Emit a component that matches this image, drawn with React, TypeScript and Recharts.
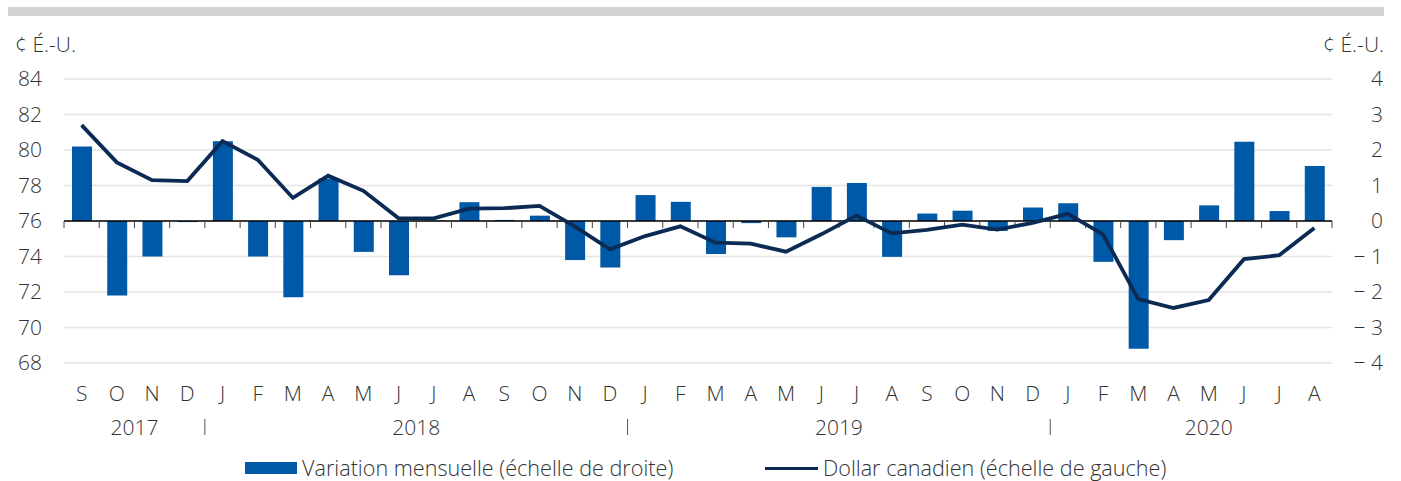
import {
  Bar,
  CartesianGrid,
  ComposedChart,
  Line,
  ReferenceLine,
  XAxis,
  YAxis,
} from 'recharts';

// sept. 2017 -> août 2020
const periodes = [
  '2017-09', '2017-10', '2017-11', '2017-12',
  '2018-01', '2018-02', '2018-03', '2018-04', '2018-05', '2018-06',
  '2018-07', '2018-08', '2018-09', '2018-10', '2018-11', '2018-12',
  '2019-01', '2019-02', '2019-03', '2019-04', '2019-05', '2019-06',
  '2019-07', '2019-08', '2019-09', '2019-10', '2019-11', '2019-12',
  '2020-01', '2020-02', '2020-03', '2020-04', '2020-05', '2020-06',
  '2020-07', '2020-08',
];

const mois = [
  'S', 'O', 'N', 'D',
  'J', 'F', 'M', 'A', 'M', 'J', 'J', 'A', 'S', 'O', 'N', 'D',
  'J', 'F', 'M', 'A', 'M', 'J', 'J', 'A', 'S', 'O', 'N', 'D',
  'J', 'F', 'M', 'A', 'M', 'J', 'J', 'A',
];

// variation mensuelle, ¢ É.-U. (échelle de droite)
const variation = [
  2.1, -2.1, -1.0, -0.03,
  2.25, -1.0, -2.15, 1.2, -0.87, -1.53, 0.01, 0.53, 0.03, 0.15, -1.1, -1.31,
  0.73, 0.54, -0.93, -0.06, -0.46, 0.96, 1.07, -1.01, 0.21, 0.29, -0.28, 0.38,
  0.5, -1.15, -3.6, -0.54, 0.44, 2.23, 0.28, 1.55,
];

// dollar canadien, ¢ É.-U. (échelle de gauche)
const dollar = [
  81.4, 79.3, 78.3, 78.25,
  80.5, 79.45, 77.3, 78.55, 77.7, 76.15, 76.15, 76.7, 76.72, 76.85, 75.7, 74.4,
  75.15, 75.7, 74.78, 74.72, 74.27, 75.25, 76.3, 75.3, 75.5, 75.8, 75.52, 75.9,
  76.4, 75.25, 71.6, 71.1, 71.55, 73.85, 74.07, 75.6,
];

const ticksGauche = [68, 70, 72, 74, 76, 78, 80, 82, 84];
const ticksDroite = [-4, -3, -2, -1, 0, 1, 2, 3, 4];

const annees = ['2017', '2018', '2019', '2020'];
const anneeAncres = ['2017-11', '2018-07', '2019-07', '2020-05'];

const BLEU = '#0059a6';
const MARINE = '#0b2a54';
const TEXTE = '#333333';
const POLICE = '"Open Sans", "Noto Sans", sans-serif';
const FS = 21;

const W = 1401;
const H = 481;
const AXE_G = 64;
const AXE_D = 51;
const MARGE_D = 18;
const LARG_PLOT = W - AXE_G - AXE_D - MARGE_D;
const BANDE = LARG_PLOT / periodes.length;

const data = periodes.map((p, i) => ({
  periode: p,
  variation: variation[i],
  dollar: dollar[i],
}));

function TickDroite(props: any) {
  const { x, y, payload } = props;
  const v = payload.value as number;
  const txt = v < 0 ? `\u2212 ${Math.abs(v)}` : `${v}`;
  return (
    <text
      x={x + AXE_D}
      y={y}
      dy="0.355em"
      textAnchor="end"
      fill={TEXTE}
      fontSize={FS}
      fontFamily={POLICE}
      fontWeight={300}
    >
      {txt}
    </text>
  );
}

// lettre du mois + ligne des années en dessous
function TickMois(props: any) {
  const { x, y, payload } = props;
  const i = payload.index as number;
  const k = anneeAncres.indexOf(payload.value);
  const debutAnnee = i > 0 && mois[i] === 'J' && mois[i - 1] === 'D';
  // 2020 est centrée sur son mois, les autres sur la limite
  const tx = k === annees.length - 1 ? x : x - BANDE / 2;
  const txt = { fill: TEXTE, fontSize: FS, fontFamily: POLICE, fontWeight: 300 };
  return (
    <g>
      <text x={x} y={y + 38} textAnchor="middle" {...txt}>
        {mois[i]}
      </text>
      {debutAnnee && (
        <line x1={x - BANDE / 2} x2={x - BANDE / 2} y1={y + 56} y2={y + 72} stroke="#555" strokeWidth={1} />
      )}
      {k >= 0 && (
        <text x={tx} y={y + 72} textAnchor="middle" {...txt}>
          {annees[k]}
        </text>
      )}
    </g>
  );
}

export default function App() {
  const dernier = periodes[periodes.length - 1];
  return (
    <div
      style={{
        position: 'absolute',
        left: 0,
        top: 0,
        width: W,
        height: H,
        background: '#fff',
        fontFamily: POLICE,
        fontWeight: 300,
        color: TEXTE,
        overflow: 'hidden',
      }}
    >
      <div style={{ position: 'absolute', left: 8, top: 7, width: 1376, height: 9, background: '#d1d2d4' }} />
      <div style={{ position: 'absolute', left: 15, top: 31, fontSize: FS, lineHeight: '26px' }}>¢ É.-U.</div>
      <div style={{ position: 'absolute', right: 17, top: 31, fontSize: FS, lineHeight: '26px' }}>¢ É.-U.</div>

      <div style={{ position: 'absolute', left: 0, top: 0 }}>
        <ComposedChart
          width={W}
          height={H}
          data={data}
          margin={{ top: 79, right: MARGE_D, bottom: 28, left: 0 }}
          barCategoryGap={0}
        >
          <CartesianGrid yAxisId="gauche" xAxisId="mois" vertical={false} stroke="#e4e4e4" strokeWidth={1.5} />
          <XAxis
            xAxisId="mois"
            dataKey="periode"
            interval={0}
            axisLine={false}
            tickLine={false}
            tickSize={0}
            tickMargin={0}
            height={90}
            tick={<TickMois />}
          />
          <YAxis
            yAxisId="gauche"
            orientation="left"
            width={AXE_G}
            domain={[68, 84]}
            ticks={ticksGauche}
            interval={0}
            axisLine={false}
            tickLine={false}
            tickSize={0}
            tickMargin={22}
            tick={{ fill: TEXTE, fontSize: FS, fontFamily: POLICE, fontWeight: 300 }}
          />
          <YAxis
            yAxisId="droite"
            orientation="right"
            width={AXE_D}
            domain={[-4, 4]}
            ticks={ticksDroite}
            interval={0}
            axisLine={false}
            tickLine={false}
            tickSize={0}
            tickMargin={0}
            tick={<TickDroite />}
          />
          <Bar
            xAxisId="mois"
            yAxisId="droite"
            dataKey="variation"
            fill={BLEU}
            barSize={20}
            isAnimationActive={false}
          />
          <ReferenceLine xAxisId="mois" yAxisId="droite" y={0} stroke="#000" strokeWidth={1.5} />
          {periodes.map((p) => (
            <ReferenceLine
              key={p}
              xAxisId="mois"
              yAxisId="droite"
              position="start"
              segment={[{ x: p, y: 0 }, { x: p, y: -0.2 }]}
              stroke="#444"
              strokeWidth={1}
            />
          ))}
          <ReferenceLine
            xAxisId="mois"
            yAxisId="droite"
            position="end"
            segment={[{ x: dernier, y: 0 }, { x: dernier, y: -0.2 }]}
            stroke="#444"
            strokeWidth={1}
          />
          <Line
            xAxisId="mois"
            yAxisId="gauche"
            type="linear"
            dataKey="dollar"
            stroke={MARINE}
            strokeWidth={3.8}
            dot={false}
            activeDot={false}
            isAnimationActive={false}
          />
        </ComposedChart>
      </div>

      <div style={{ position: 'absolute', left: 245, top: 455, display: 'flex', alignItems: 'center', fontSize: 21.6, lineHeight: '26px' }}>
        <span style={{ display: 'inline-block', width: 52, height: 12, background: BLEU, marginRight: 5 }} />
        <span>Variation mensuelle (échelle de droite)</span>
      </div>
      <div style={{ position: 'absolute', left: 765, top: 455, display: 'flex', alignItems: 'center', fontSize: 21.6, lineHeight: '26px' }}>
        <span style={{ display: 'inline-block', width: 53, height: 3, background: MARINE, marginRight: 5 }} />
        <span>Dollar canadien (échelle de gauche)</span>
      </div>
    </div>
  );
}
